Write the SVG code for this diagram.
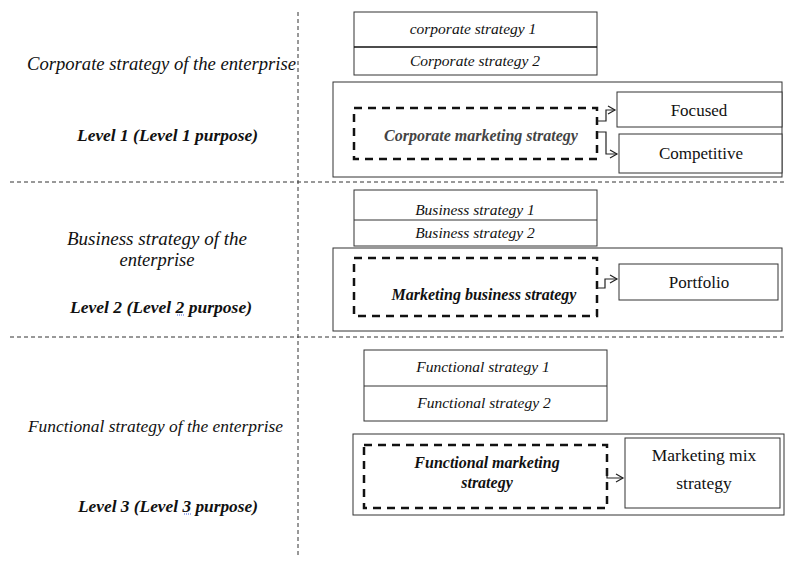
<svg xmlns="http://www.w3.org/2000/svg" width="785" height="561" viewBox="0 0 785 561">
<style>
.bg{fill:#fff}
.box{fill:#fff;stroke:#333;stroke-width:1}
.dbox{fill:none;stroke:#111;stroke-width:2.5;stroke-dasharray:8,6}
.sep{stroke:#333;stroke-width:1;stroke-dasharray:4,3;fill:none}
.con{fill:none;stroke:#222;stroke-width:1.2}
text{font-family:"Liberation Serif","Times New Roman",serif;fill:#111}
.it{font-style:italic}
.bi{font-style:italic;font-weight:bold}
.c{text-anchor:middle}
</style>
<defs>
<marker id="arr" markerWidth="10" markerHeight="10" refX="8" refY="5" orient="auto" markerUnits="userSpaceOnUse">
<path d="M1,1 L8,5 L1,9" fill="none" stroke="#222" stroke-width="1.2"/>
</marker>
</defs>
<rect class="bg" x="0" y="0" width="785" height="561"/>

<g id="separators">
<line class="sep" x1="298" y1="12" x2="298" y2="556"/>
<line class="sep" x1="10" y1="182" x2="785" y2="182"/>
<line class="sep" x1="10" y1="337" x2="785" y2="337"/>
</g>

<g id="labels-left">
<text class="it" x="27" y="70" font-size="18" textLength="269" lengthAdjust="spacingAndGlyphs">Corporate strategy of the enterprise</text>
<text class="bi" x="77" y="141" font-size="17" textLength="181" lengthAdjust="spacingAndGlyphs">Level 1 (Level 1 purpose)</text>
<text class="it" x="67" y="245" font-size="18.5" textLength="180" lengthAdjust="spacingAndGlyphs">Business strategy of the</text>
<text class="it c" x="157" y="266" font-size="18.5">enterprise</text>
<text class="bi" x="70" y="313" font-size="17" textLength="182" lengthAdjust="spacingAndGlyphs">Level 2 (Level 2 purpose)</text>
<line x1="177" y1="315" x2="184" y2="315" stroke="#4060e0" stroke-width="1" stroke-dasharray="1,1"/>
<text class="it" x="28" y="432" font-size="17.5" textLength="255" lengthAdjust="spacingAndGlyphs">Functional strategy of the enterprise</text>
<text class="bi" x="78" y="512" font-size="17" textLength="180" lengthAdjust="spacingAndGlyphs">Level 3 (Level 3 purpose)</text>
<line x1="184" y1="514" x2="191" y2="514" stroke="#4060e0" stroke-width="1" stroke-dasharray="1,1"/>
</g>

<g id="corporate-strategies">
<rect class="box" x="354" y="12" width="243" height="63"/>
<line x1="354" y1="47" x2="597" y2="47" stroke="#111" stroke-width="1.6"/>
<text class="it c" x="473" y="34" font-size="15.5">corporate strategy 1</text>
<text class="it c" x="475" y="66" font-size="15.5">Corporate strategy 2</text>
</g>

<g id="level1">
<rect class="box" x="333" y="82" width="449" height="95"/>
</g>
<g id="corporate-marketing">
<rect class="dbox" x="354" y="108" width="243" height="51"/>
<text class="bi c" x="481" y="141" font-size="16" style="fill:#444">Corporate marketing strategy</text>
</g>
<g id="focused">
<rect class="box" x="617" y="92" width="165" height="35"/>
<text class="c" x="699" y="116" font-size="17">Focused</text>
</g>
<g id="competitive">
<rect class="box" x="619" y="134" width="163" height="39"/>
<text class="c" x="701" y="159" font-size="17">Competitive</text>
</g>

<g id="business-strategies">
<rect class="box" x="354" y="190" width="243" height="56"/>
<line x1="354" y1="220" x2="597" y2="220" stroke="#333" stroke-width="1"/>
<text class="it c" x="475" y="215" font-size="15.5">Business strategy 1</text>
<text class="it c" x="475" y="238" font-size="15.5">Business strategy 2</text>
</g>

<g id="level2">
<rect class="box" x="333" y="248" width="449" height="83"/>
</g>
<g id="marketing-business">
<rect class="dbox" x="354" y="258" width="243" height="58"/>
<text class="bi c" x="484" y="300" font-size="16">Marketing business strategy</text>
</g>
<g id="portfolio">
<rect class="box" x="619" y="264" width="159" height="36"/>
<text class="c" x="699" y="288" font-size="17">Portfolio</text>
</g>

<g id="functional-strategies">
<rect class="box" x="364" y="350" width="243" height="71"/>
<line x1="364" y1="386" x2="607" y2="386" stroke="#333" stroke-width="1"/>
<text class="it c" x="483" y="372" font-size="15.5">Functional strategy 1</text>
<text class="it c" x="484" y="408" font-size="15.5">Functional strategy 2</text>
</g>

<g id="level3">
<rect class="box" x="353" y="434" width="431" height="81"/>
</g>
<g id="functional-marketing">
<rect class="dbox" x="364" y="445" width="243" height="63"/>
<text class="bi c" x="487" y="468" font-size="16">Functional marketing</text>
<text class="bi c" x="487" y="488" font-size="16">strategy</text>
</g>
<g id="marketing-mix">
<rect class="box" x="625" y="438" width="155" height="70"/>
<text class="c" x="704" y="461" font-size="17.5">Marketing mix</text>
<text class="c" x="704" y="489" font-size="17.5">strategy</text>
</g>

<g id="connectors">
<path class="con" d="M597,121 H606 V110 H615" marker-end="url(#arr)"/>
<path class="con" d="M597,132 H606 V154 H617" marker-end="url(#arr)"/>
<path class="con" d="M597,288 H605 V279 H617" marker-end="url(#arr)"/>
<path class="con" d="M607,469 V478 H623" marker-end="url(#arr)"/>
</g>
</svg>
